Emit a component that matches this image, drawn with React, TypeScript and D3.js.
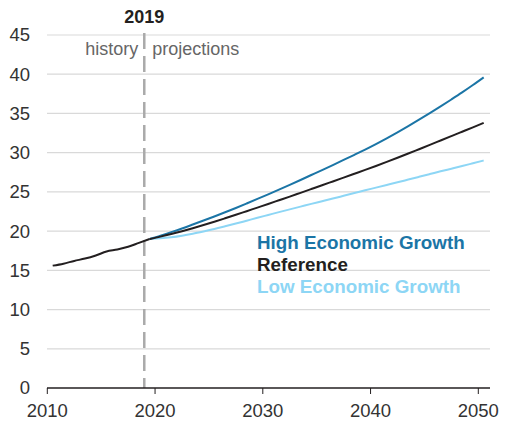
import * as d3 from "d3";

const years = d3.range(2010, 2051);
const historyYears = years.filter((y) => y <= 2019);
const projYears = years.filter((y) => y >= 2019);

const historyValues = [15.6, 15.85, 16.2, 16.5, 16.9, 17.4, 17.65, 18.0, 18.5, 19.0];

// 2019..2050
const referenceValues = [
  19.0, 19.3, 19.63, 19.99, 20.37, 20.77, 21.19, 21.63, 22.08, 22.54, 23.0,
  23.46, 23.93, 24.4, 24.88, 25.36, 25.84, 26.33, 26.82, 27.31, 27.8,
  28.3, 28.82, 29.35, 29.89, 30.44, 30.99, 31.55, 32.11, 32.67, 33.23, 33.8,
];
const highValues = [
  19.0, 19.42, 19.87, 20.34, 20.84, 21.35, 21.87, 22.4, 22.95, 23.52, 24.1,
  24.69, 25.29, 25.9, 26.52, 27.15, 27.78, 28.42, 29.07, 29.73, 30.4,
  31.1, 31.83, 32.59, 33.38, 34.2, 35.04, 35.9, 36.78, 37.68, 38.62, 39.6,
];
const lowValues = [
  19.0, 19.08, 19.22, 19.42, 19.67, 19.96, 20.27, 20.61, 20.96, 21.33, 21.7,
  22.06, 22.42, 22.77, 23.12, 23.47, 23.81, 24.15, 24.5, 24.85, 25.2,
  25.54, 25.88, 26.22, 26.57, 26.92, 27.27, 27.62, 27.96, 28.3, 28.65, 29.0,
];

const yTicks = [0, 5, 10, 15, 20, 25, 30, 35, 40, 45];
const xTicks = [2010, 2020, 2030, 2040, 2050];

const legend = [
  { label: "High Economic Growth", color: "#1b75a6" },
  { label: "Reference", color: "#231f20" },
  { label: "Low Economic Growth", color: "#8dd6f5" },
];

const FONT = "'Liberation Sans', Arial, sans-serif";

export default function App() {
  const width = 507;
  const height = 423;
  const x = d3.scaleLinear().domain([2010, 2050]).range([47.3, 478.3]);
  const y = d3.scaleLinear().domain([0, 45]).range([388, 35]);
  const gridLeft = 47;
  const gridRight = 490;

  // annual values plotted at mid-year
  const line = d3
    .line<[number, number]>()
    .x((d) => x(d[0] + 0.5))
    .y((d) => y(d[1]))
    .curve(d3.curveMonotoneX);

  const hist = historyYears.map((yr, i) => [yr, historyValues[i]] as [number, number]);
  const series = [
    { values: lowValues, color: legend[2].color },
    { values: highValues, color: legend[0].color },
    { values: referenceValues, color: legend[1].color },
  ];

  return (
    <svg
      width={width}
      height={height}
      style={{ position: "absolute", left: 0, top: 0, background: "#fff" }}
      fontFamily={FONT}
    >
      {yTicks
        .filter((t) => t > 0)
        .map((t) => (
          <line key={t} x1={gridLeft} x2={gridRight} y1={y(t)} y2={y(t)} stroke="#d9d9d9" strokeWidth={1.2} />
        ))}
      {yTicks.map((t) => (
        <text key={t} x={30} y={y(t)} dy="0.35em" textAnchor="end" fontSize={18.5} fill="#333">
          {t}
        </text>
      ))}
      <line x1={x(2019)} x2={x(2019)} y1={33} y2={388} stroke="#aaaaaa" strokeWidth={2.5} strokeDasharray="16,7" />
      <text x={x(2019)} y={23} textAnchor="middle" fontSize={18} fontWeight="bold" fill="#231f20">
        2019
      </text>
      <text x={x(2019) - 6} y={55} textAnchor="end" fontSize={18} fill="#666">
        history
      </text>
      <text x={x(2019) + 8} y={55} textAnchor="start" fontSize={18} fill="#666">
        projections
      </text>
      {series.map((s, i) => (
        <path
          key={i}
          d={line(projYears.map((yr, j) => [yr, s.values[j]] as [number, number])) || ""}
          fill="none"
          stroke={s.color}
          strokeWidth={2}
        />
      ))}
      <path d={line(hist) || ""} fill="none" stroke="#231f20" strokeWidth={2} />
      <line x1={gridLeft} x2={gridRight} y1={y(0)} y2={y(0)} stroke="#231f20" strokeWidth={1.5} />
      {xTicks.map((t) => (
        <g key={t} transform={`translate(${x(t)},0)`}>
          <line y1={y(0)} y2={y(0) + 6} stroke="#231f20" strokeWidth={1} />
          <text y={417} textAnchor="middle" fontSize={18.5} fill="#333">
            {t}
          </text>
        </g>
      ))}
      {legend.map((l, i) => (
        <text key={l.label} x={257} y={249 + i * 22} fontSize={18.8} fontWeight="bold" fill={l.color}>
          {l.label}
        </text>
      ))}
    </svg>
  );
}
